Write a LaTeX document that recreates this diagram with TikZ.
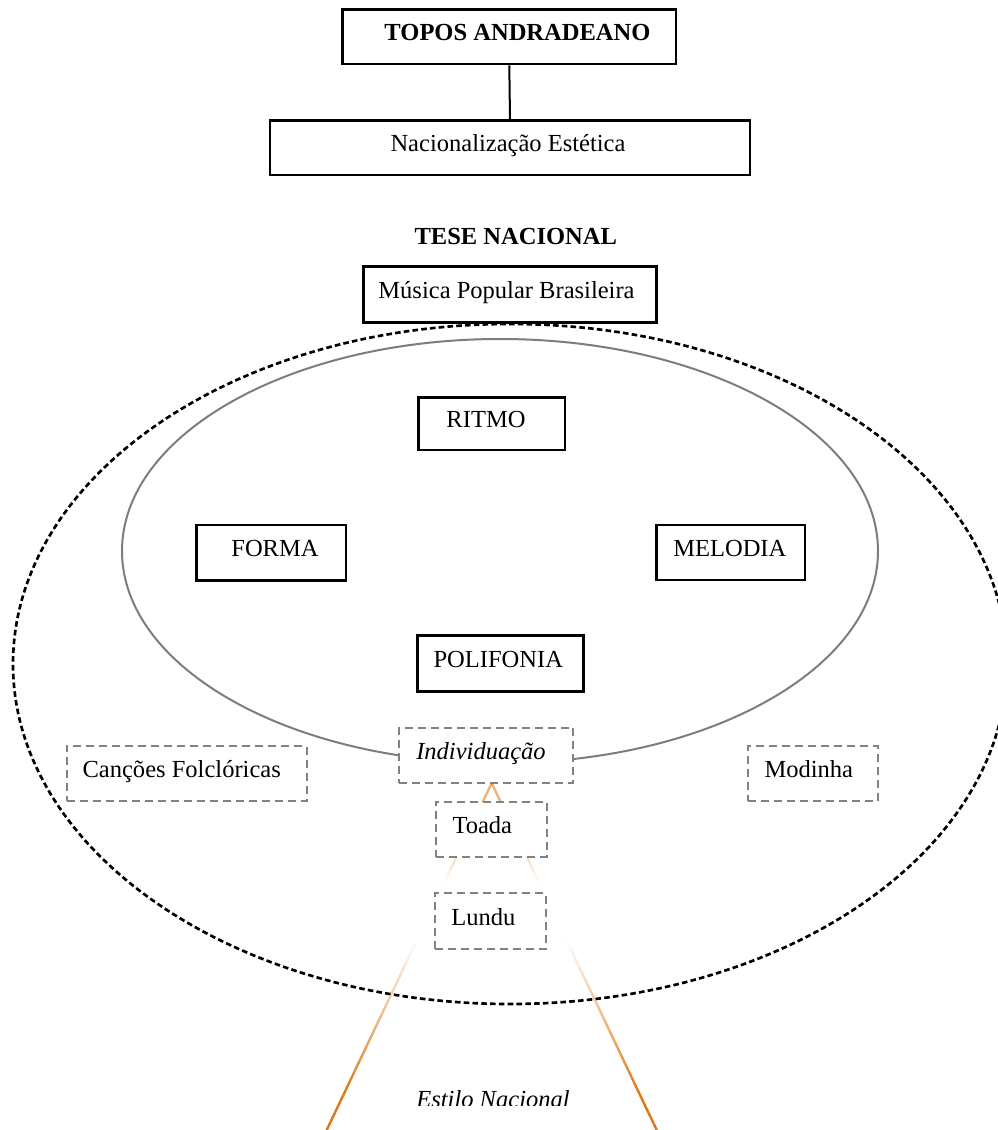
\documentclass[tikz,border=0pt]{standalone}
\usepackage{fontspec}
\setmainfont{Liberation Serif}
\usetikzlibrary{calc}
\newdimen\pxu \pxu=0.75pt
\newcommand\shx[2]{\makebox[0pt]{\hspace*{#1\pxu}#2}}
\definecolor{dgray}{RGB}{130,130,130}
\definecolor{egray}{RGB}{125,125,125}
\definecolor{tri}{RGB}{222,118,18}
\begin{document}
\begin{tikzpicture}[x=0.75pt,y=-0.75pt,
  txt/.style={font=\fontsize{18.4}{22}\selectfont, inner sep=0pt},
  boxbase/.style={txt, fill=white, text height=12pt, text depth=6pt},
  sbox/.style={boxbase, draw=black, line width=1.9pt},
  dbox/.style={boxbase, draw=dgray, line width=1.4pt, dash pattern=on 6pt off 3.75pt},
  wh/.style 2 args={minimum width=#1*0.75pt, minimum height=#2*0.75pt},
  link/.style={draw=black, line width=1.5pt},
  triline/.style={draw=tri, line width=1.8pt},
]
\useasboundingbox (0,0) rectangle (997,1130);

% ellipses
\draw[egray, line width=1.5pt] (500,551) ellipse [x radius=378, y radius=212];
\draw[black, line width=2pt, dash pattern=on 4.2pt off 2.4pt] (510,664) ellipse [x radius=497, y radius=340];

% fading triangle
\coordinate (apex) at (491.7,783);
\coordinate (bl) at (326.7,1130);
\coordinate (br) at (656.7,1130);
\foreach \i in {0,...,59}{
  \pgfmathsetmacro\ta{\i/60}
  \pgfmathsetmacro\tb{(\i+1)/60}
  \pgfmathsetmacro\tm{(\i+0.5)/60}
  \pgfmathsetmacro\op{min(1,min(0.55,max(0,3.1*(0.294-\tm)))+max(0,(\tm-0.45)/0.45))}
  \draw[triline, draw opacity=\op] ($(apex)!\ta!(bl)$) -- ($(apex)!\tb!(bl)$);
  \draw[triline, draw opacity=\op] ($(apex)!\ta!(br)$) -- ($(apex)!\tb!(br)$);
}

% boxes
\node[sbox, wh={333.3}{54.7}] (topos) at (509.3,36.7) {\shx{16.4}{\bfseries TOPOS ANDRADEANO}};
\node[sbox, wh={480}{54.3}] (nac) at (510,147.9) {\shx{-4}{Nacionalização Estética}};
\node[txt, anchor=base] (tese) at (515.8,245) {\bfseries TESE NACIONAL};
\node[sbox, wh={293.3}{56}] (musica) at (510,294.7) {\shx{-7}{Música Popular Brasileira}};
\node[sbox, wh={146.7}{52.3}] (ritmo) at (491.7,423.8) {\shx{-11.4}{RITMO}};
\node[sbox, wh={149.3}{55.7}] (forma) at (271.3,552.8) {\shx{7.4}{FORMA}};
\node[sbox, wh={148.3}{55}] (melodia) at (730.8,552.5) {\shx{-2}{MELODIA}};
\node[sbox, wh={165.7}{56}] (polifonia) at (500.5,663.7) {\shx{-4.4}{POLIFONIA}};
\node[dbox, wh={174.3}{55}] (indiv) at (486.2,755.2) {\shx{-10.4}{\itshape Individuação}};
\node[dbox, wh={110.7}{55}] (toada) at (491.3,829.2) {\shx{-18}{Toada}};
\node[dbox, wh={110.7}{55.7}] (lundu) at (490.3,921.2) {\shx{-14}{Lundu}};
\node[dbox, wh={240}{54.7}] (cancoes) at (186.7,773.3) {\shx{-10}{Canções Folclóricas}};
\node[dbox, wh={130}{54.7}] (modinha) at (813.3,773.3) {\shx{-9}{Modinha}};

\draw[link] (topos.south) -- (nac.north);

\begin{scope}
  \clip (380,1060) rectangle (620,1105.5);
  \node[txt, anchor=base] (estilo) at (493,1107.7) {\itshape Estilo Nacional};
\end{scope}
\end{tikzpicture}
\end{document}
